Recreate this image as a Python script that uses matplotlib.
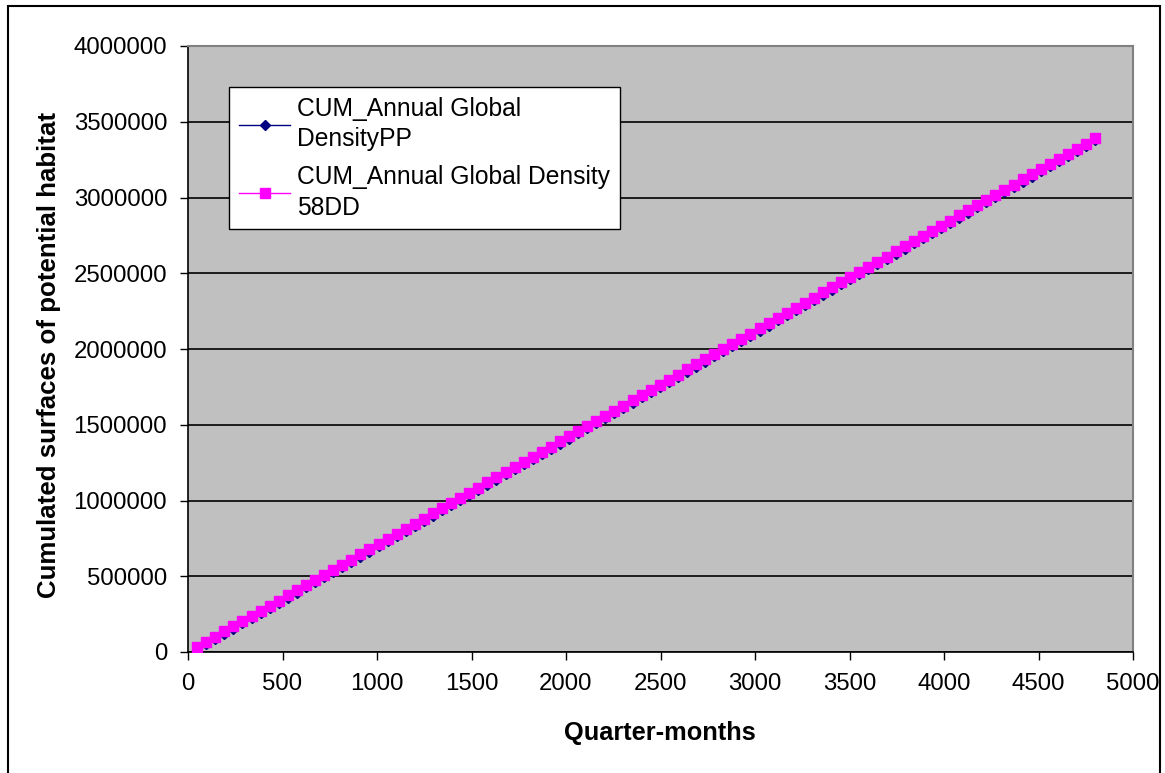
import matplotlib
matplotlib.use("Agg")
import matplotlib.pyplot as plt
from matplotlib.patches import Rectangle
from matplotlib.ticker import FuncFormatter

# Quarter-months (x values)
quarter_months = [48 * k for k in range(1, 101)]

# CUM_Annual Global Density 58DD
density_58dd = [
    34000, 68000, 102000, 136000, 170000, 203000, 237000, 271000, 305000, 339000,
    373000, 407000, 441000, 475000, 509000, 542000, 576000, 610000, 644000, 678000,
    712000, 746000, 780000, 814000, 848000, 881000, 915000, 949000, 983000, 1017000,
    1051000, 1085000, 1119000, 1153000, 1187000, 1220000, 1254000, 1288000, 1322000, 1356000,
    1390000, 1424000, 1458000, 1492000, 1526000, 1559000, 1593000, 1627000, 1661000, 1695000,
    1729000, 1763000, 1797000, 1831000, 1865000, 1898000, 1932000, 1966000, 2000000, 2034000,
    2068000, 2102000, 2136000, 2170000, 2204000, 2237000, 2271000, 2305000, 2339000, 2373000,
    2407000, 2441000, 2475000, 2509000, 2543000, 2576000, 2610000, 2644000, 2678000, 2712000,
    2746000, 2780000, 2814000, 2848000, 2882000, 2915000, 2949000, 2983000, 3017000, 3051000,
    3085000, 3119000, 3153000, 3187000, 3221000, 3254000, 3288000, 3322000, 3356000, 3390000,
]

# CUM_Annual Global DensityPP (slightly below 58DD)
density_pp = [
    20000, 54000, 88000, 121000, 155000, 189000, 223000, 257000, 291000, 324000,
    358000, 392000, 426000, 460000, 494000, 527000, 561000, 595000, 629000, 663000,
    697000, 731000, 765000, 799000, 833000, 866000, 900000, 934000, 968000, 1002000,
    1036000, 1070000, 1104000, 1138000, 1172000, 1205000, 1239000, 1273000, 1307000, 1341000,
    1375000, 1409000, 1443000, 1477000, 1511000, 1544000, 1578000, 1612000, 1646000, 1680000,
    1714000, 1748000, 1782000, 1816000, 1850000, 1883000, 1917000, 1951000, 1985000, 2019000,
    2053000, 2087000, 2121000, 2155000, 2189000, 2222000, 2256000, 2290000, 2324000, 2358000,
    2392000, 2426000, 2460000, 2494000, 2528000, 2561000, 2595000, 2629000, 2663000, 2697000,
    2731000, 2765000, 2799000, 2833000, 2867000, 2900000, 2934000, 2968000, 3002000, 3036000,
    3070000, 3104000, 3138000, 3172000, 3206000, 3239000, 3273000, 3307000, 3341000, 3378000,
]

series_labels = ["CUM_Annual Global\nDensityPP", "CUM_Annual Global Density\n58DD"]
x_ticks = [0, 500, 1000, 1500, 2000, 2500, 3000, 3500, 4000, 4500, 5000]
y_ticks = [0, 500000, 1000000, 1500000, 2000000, 2500000, 3000000, 3500000, 4000000]

plt.rcParams['font.family'] = ['Liberation Sans', 'DejaVu Sans']

W, H = 1165, 773
fig = plt.figure(figsize=(W / 100, H / 100), dpi=100)
left, right, top, bottom = 188, 1133, 46, 652
aw, ah = right - left, bottom - top
ax = fig.add_axes([left / W, 1 - bottom / H, aw / W, ah / H])
ax.set_facecolor('#C0C0C0')

ax.plot(quarter_months, density_pp, color='#000080', lw=1.0, marker='D', ms=5,
        mfc='#000080', mec='#000080', label=series_labels[0], zorder=3)
ax.plot(quarter_months, density_58dd, color='#FF00FF', lw=1.0, marker='s', ms=6.8,
        mfc='#FF00FF', mec='#FF00FF', label=series_labels[1], zorder=4)

ax.set_xlim(0, 5000)
ax.set_ylim(0, 4000000)
ax.set_xticks(x_ticks)
ax.set_yticks(y_ticks)
ax.yaxis.set_major_formatter(FuncFormatter(lambda v, p: f"{int(v)}"))
ax.xaxis.set_major_formatter(FuncFormatter(lambda v, p: f"{int(v)}"))
ax.tick_params(axis='both', direction='out', length=6, width=1, labelsize=17.3, colors='black', pad=9)
ax.grid(axis='y', color='black', lw=1.2)
ax.set_axisbelow(True)
for s in ['top', 'right']:
    ax.spines[s].set_color('#808080')
    ax.spines[s].set_linewidth(1.5)
for s in ['left', 'bottom']:
    ax.spines[s].set_color('black')
    ax.spines[s].set_linewidth(1.2)

ax.set_xlabel('Quarter-months', fontsize=18.3, fontweight='bold')
ax.set_ylabel('Cumulated surfaces of potential habitat', fontsize=18.6, fontweight='bold')
ax.xaxis.set_label_coords((660 - left) / aw, -(733 - bottom) / ah)
ax.yaxis.set_label_coords((49 - left) / aw, (bottom - 355) / ah)
ax.xaxis.label.set_verticalalignment('center')
ax.yaxis.label.set_verticalalignment('center')

leg = ax.legend(loc='upper left', bbox_to_anchor=((229 - left) / aw, (bottom - 87) / ah),
                fontsize=17.7, frameon=True, fancybox=False, shadow=False, borderaxespad=0,
                handlelength=2.1, handletextpad=0.25, labelspacing=0.55, borderpad=0.4)
for t in leg.get_texts():
    t.set_linespacing(1.35)
leg.get_frame().set_edgecolor('black')
leg.get_frame().set_linewidth(1.0)
leg.get_frame().set_facecolor('white')
leg.get_frame().set_alpha(1)

fig.patches.append(Rectangle((8 / W, -0.02), (1160 - 8) / W, 1.02 - 6 / H, transform=fig.transFigure,
                             fill=False, edgecolor='black', lw=1.5, clip_on=False))

fig.savefig('out.png', dpi=100)
